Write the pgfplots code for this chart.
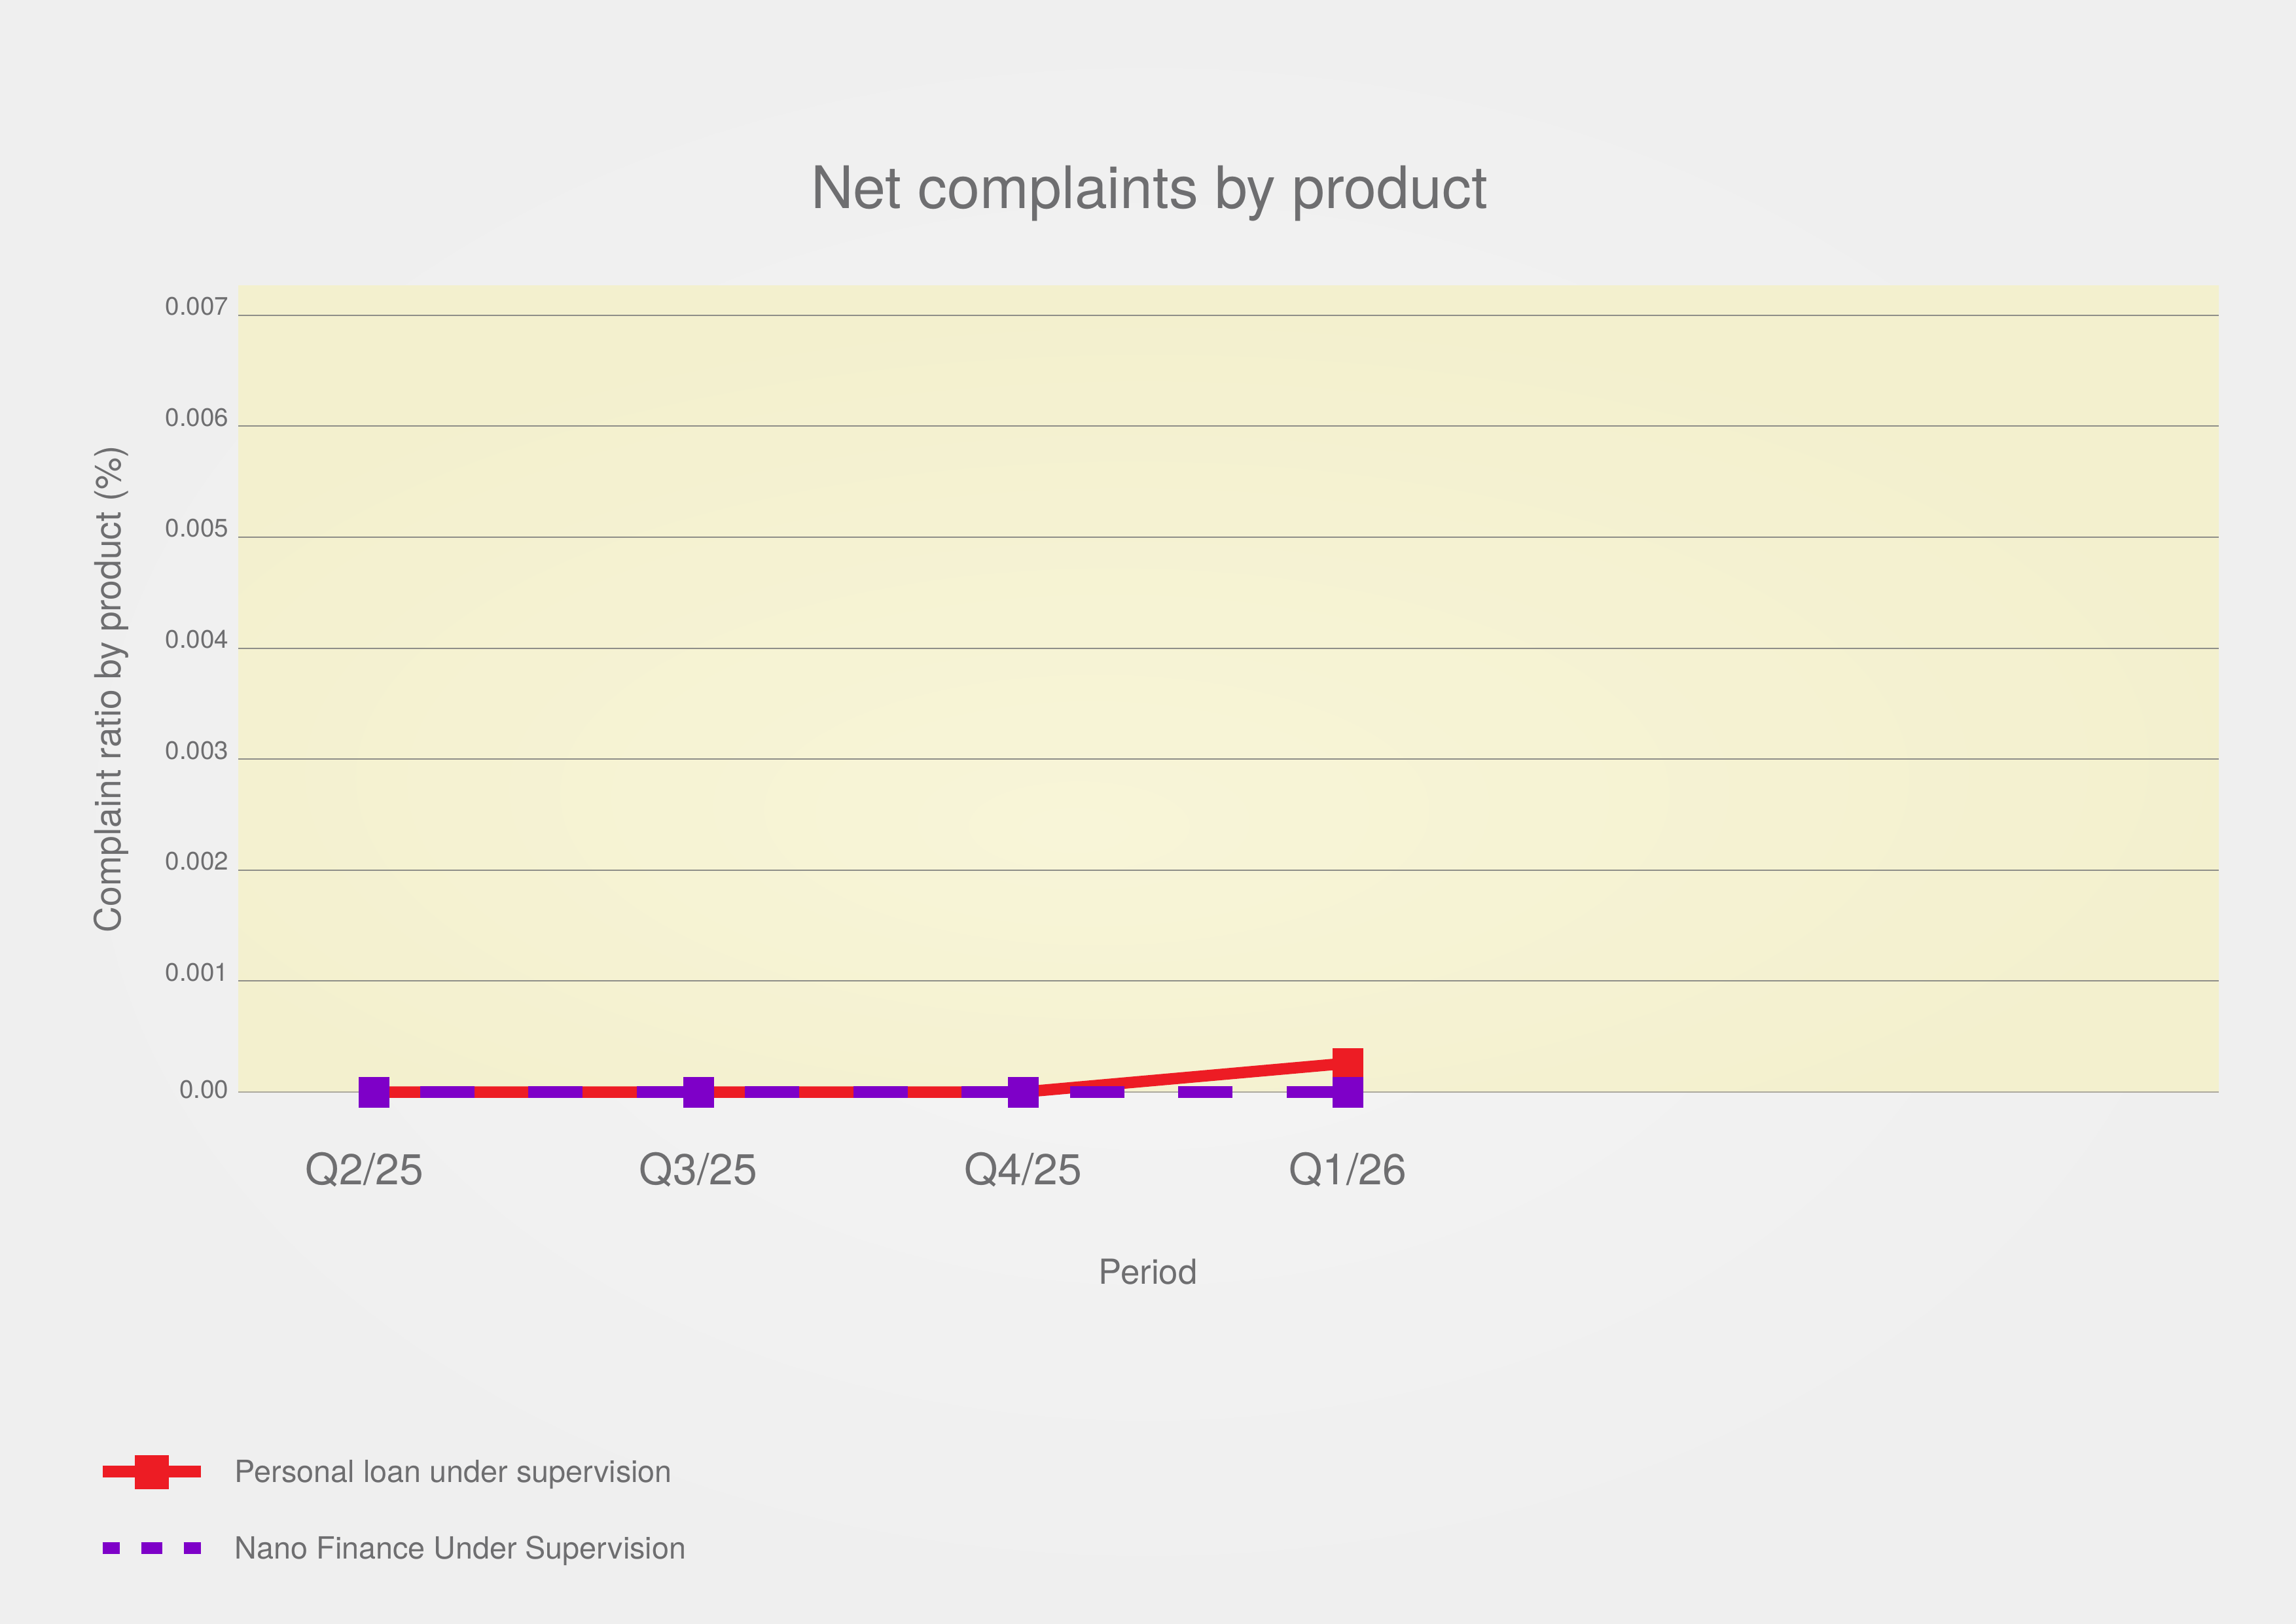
\documentclass[border=0pt]{standalone}
\usepackage{fontspec}
\setmainfont{TeX Gyre Heros}
\usepackage{pgfplots}
\pgfplotsset{compat=1.18}
\definecolor{bgout}{RGB}{239,239,239}
\definecolor{bgin}{RGB}{245,245,245}
\definecolor{plotout}{RGB}{243,240,206}
\definecolor{plotin}{RGB}{248,245,216}
\definecolor{txt}{RGB}{110,110,112}
\definecolor{gridc}{RGB}{142,142,136}
\definecolor{axisc}{RGB}{172,169,158}
\definecolor{redc}{RGB}{237,28,36}
\definecolor{purc}{RGB}{126,0,200}
\pgfdeclareradialshading{plotshade}{\pgfpoint{-4bp}{-9bp}}{color(0bp)=(plotin); color(28bp)=(plotout); color(50bp)=(plotout)}
\pgfplotsset{
  redleg/.style={legend image code/.code={\draw[mark repeat=2, mark phase=2, ##1, mark size=2.55mm] plot coordinates {(0mm,1.6mm) (7.5mm,1.6mm) (15mm,1.6mm)};}},
  purleg/.style={legend image code/.code={\draw[##1, mark=none, dash pattern=on 2.6mm off 3.3mm on 3.2mm off 3.3mm on 2.6mm off 20mm, dash phase=0mm] (0mm,1.6mm) -- (15mm,1.6mm);}},
}
\begin{document}
\begin{tikzpicture}
\useasboundingbox (0,0) rectangle (350.8mm,248.1mm);
\shade[inner color=bgin, outer color=bgout] (0,0) rectangle (350.8mm,248.1mm);
\begin{axis}[
  scale only axis, width=302.6mm, height=123.2mm,
  at={(36.4mm,81.2mm)}, anchor=south west,
  xmin=-0.417, xmax=5.683, ymin=0, ymax=0.007264,
  clip=false,
  axis x line*=bottom, axis y line*=left,
  x axis line style={draw=axisc, line width=0.25mm},
  y axis line style={draw=none},
  major tick length=0pt,
  scaled y ticks=false,
  xtick={0,1,2,3},
  xticklabels={Q2/25\kern2.8mm,Q3/25,Q4/25,Q1/26},
  ytick={0,0.001,0.002,0.003,0.004,0.005,0.006,0.007},
  yticklabels={\raisebox{-0.95mm}{0.00},0.001,0.002,0.003,0.004,0.005,0.006,0.007},
  ymajorgrids, grid style={draw=gridc, line width=0.2mm},
  axis background/.style={shade, shading=plotshade},
  xticklabel style={font=\fontsize{18.8}{21}\selectfont, text=txt, anchor=base, inner sep=0pt, yshift=-14.1mm},
  yticklabel style={font=\fontsize{11}{13}\selectfont, text=txt, anchor=base east, inner sep=0pt, xshift=-1.4mm},
  every axis title shift=0pt,
  title={Net complaints by product},
  title style={font=\fontsize{25.5}{30}\selectfont, text=txt, at={(axis description cs:0.46,1.0958)}, anchor=base, inner sep=0pt},
  xlabel={Period},
  xlabel style={font=\fontsize{15}{18}\selectfont, text=txt, at={(axis description cs:0.4594,-0.2386)}, anchor=base, inner sep=0pt},
  ylabel={Complaint ratio by product (\%)},
  ylabel style={font=\fontsize{15.7}{18}\selectfont, text=txt, at={(axis description cs:-0.0592,0.5)}, anchor=base, inner sep=0pt},
  legend style={at={(axis description cs:-0.0714,-0.4501)}, anchor=north west, draw=none, fill=none, inner sep=0pt, outer sep=0pt, row sep=7.2mm, column sep=4.35mm, font=\fontsize{13.3}{15}\selectfont, text=txt, cells={anchor=base west}, nodes={inner sep=0pt, text height=3.5mm, text depth=1mm}},
]
\addplot[draw=redc, line width=1.75mm, mark=square*, mark size=2.3mm,
  mark options={solid, fill=redc, draw=redc, line width=0.01pt}, redleg]
  coordinates {(0,0) (1,0) (2,0) (3,0.00026)};
\addlegendentry{Personal loan under supervision}
\addplot[draw=purc, line width=1.75mm, dash pattern=on 8.3mm off 8.25mm, dash phase=9.45mm,
  mark=square*, mark size=2.3mm, mark options={solid, fill=purc, draw=purc, line width=0.01pt}, purleg]
  coordinates {(0,0) (1,0) (2,0) (3,0)};
\addlegendentry{Nano Finance Under Supervision}
\end{axis}
\end{tikzpicture}
\end{document}
